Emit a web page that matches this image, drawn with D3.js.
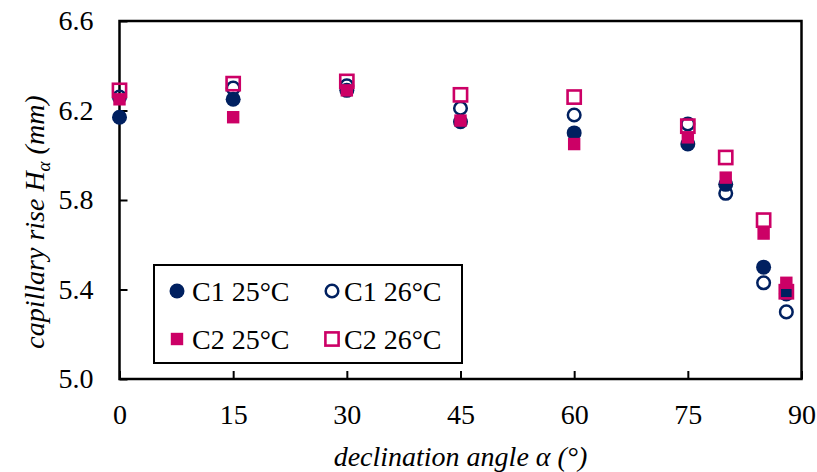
<!DOCTYPE html>
<html>
<head>
<meta charset="utf-8">
<script src="https://cdn.jsdelivr.net/npm/d3@7"></script>
<style>
  body { margin: 0; background: #fff; }
  svg { display: block; }
  text { font-family: "Liberation Serif", "Times New Roman", serif; fill: #000; }
</style>
</head>
<body>
<div id="chart"></div>
<script>
// declination angles (deg)
const angles = [0, 15, 30, 45, 60, 75, 80, 85, 88];
// capillary rise (mm)
const c1At25 = [6.17, 6.25, 6.29, 6.15, 6.10, 6.05, 5.87, 5.50, 5.38];
const c1At26 = [6.26, 6.30, 6.31, 6.21, 6.18, 6.14, 5.83, 5.43, 5.30];
const c2At25 = [6.25, 6.17, 6.29, 6.155, 6.05, 6.08, 5.90, 5.65, 5.43];
const c2At26 = [6.29, 6.32, 6.33, 6.27, 6.26, 6.13, 5.99, 5.71, 5.39];
const xTicks = [0, 15, 30, 45, 60, 75, 90];
const yTicks = [5.0, 5.4, 5.8, 6.2, 6.6];
const seriesNames = ["C1 25°C", "C1 26°C", "C2 25°C", "C2 26°C"];

const NAVY = "#002060", MAGENTA = "#CC0066";
const FONT = "'Liberation Serif', 'Times New Roman', serif";
const WIDTH = 817, HEIGHT = 472;
const margin = { top: 21, right: 15.5, bottom: 93, left: 119.5 };

const svg = d3.select("#chart").append("svg")
  .attr("width", WIDTH)
  .attr("height", HEIGHT);

const x = d3.scaleLinear().domain([0, 90]).range([margin.left, WIDTH - margin.right]);
const y = d3.scaleLinear().domain([5.0, 6.6]).range([HEIGHT - margin.bottom, margin.top]);

// axes with inward ticks
const xAxis = svg.append("g")
  .attr("transform", `translate(0, ${y(5.0)})`)
  .call(d3.axisBottom(x).tickValues(xTicks).tickSize(-8).tickPadding(25).tickFormat(d3.format("d")))
  .call(g => g.select(".domain").remove());

const yAxis = svg.append("g")
  .attr("transform", `translate(${x(0)}, 0)`)
  .call(d3.axisLeft(y).tickValues(yTicks).tickSize(-8).tickPadding(26).tickFormat(d3.format(".1f")))
  .call(g => g.select(".domain").remove());

[xAxis, yAxis].forEach(g => {
  g.attr("font-family", FONT);
  g.selectAll(".tick line").attr("stroke", "#000").attr("stroke-width", 2);
  g.selectAll(".tick text")
    .style("font-size", "28px")
    .style("font-family", FONT)
    .attr("fill", "#000");
});

// plot frame
svg.append("rect")
  .attr("x", x(0))
  .attr("y", y(6.6))
  .attr("width", x(90) - x(0))
  .attr("height", y(5.0) - y(6.6))
  .attr("fill", "none")
  .attr("stroke", "#000")
  .attr("stroke-width", 2.5);

// markers
function marker(sel, kind) {
  if (kind === 0) {
    sel.append("circle").attr("r", 7.5).attr("fill", NAVY);
  } else if (kind === 1) {
    sel.append("circle").attr("r", 6.3).attr("fill", "none")
      .attr("stroke", NAVY).attr("stroke-width", 2.5);
  } else if (kind === 2) {
    sel.append("rect").attr("x", -6.2).attr("y", -6.2).attr("width", 12.4).attr("height", 12.4)
      .attr("fill", MAGENTA);
  } else {
    sel.append("rect").attr("x", -6.6).attr("y", -6.6).attr("width", 13.2).attr("height", 13.2)
      .attr("fill", "none").attr("stroke", MAGENTA).attr("stroke-width", 2.6);
  }
}

const allSeries = [c1At25, c1At26, c2At25, c2At26];
allSeries.forEach((vals, k) => {
  const pts = svg.append("g").selectAll("g")
    .data(angles.map((a, i) => ({ a, v: vals[i] })))
    .enter()
    .append("g")
    .attr("transform", d => `translate(${x(d.a)}, ${y(d.v)})`);
  marker(pts, k);
});

// legend
const legend = svg.append("g");
legend.append("rect")
  .attr("x", 154).attr("y", 265)
  .attr("width", 308).attr("height", 98)
  .attr("fill", "#fff")
  .attr("stroke", "#000")
  .attr("stroke-width", 2);

const legendPos = [
  { mx: 177, tx: 192, cy: 291 },
  { mx: 332, tx: 344, cy: 291 },
  { mx: 177, tx: 192, cy: 339 },
  { mx: 332, tx: 344, cy: 339 }
];
seriesNames.forEach((name, k) => {
  const p = legendPos[k];
  const m = legend.append("g").attr("transform", `translate(${p.mx}, ${p.cy})`);
  marker(m, k);
  legend.append("text")
    .attr("x", p.tx)
    .attr("y", p.cy + 10)
    .style("font-size", "28px")
    .text(name);
});

// axis titles
svg.append("text")
  .attr("x", (x(0) + x(90)) / 2)
  .attr("y", 466)
  .attr("text-anchor", "middle")
  .style("font-size", "28px")
  .style("font-style", "italic")
  .text("declination angle α (°)");

const yTitle = svg.append("text")
  .attr("transform", "translate(44, 222) rotate(-90)")
  .attr("text-anchor", "middle")
  .style("font-size", "28px")
  .style("font-style", "italic");
yTitle.append("tspan").text("capillary rise H");
yTitle.append("tspan").attr("dy", 6).style("font-size", "19px").text("α");
yTitle.append("tspan").attr("dy", -6).text(" (mm)");
</script>
</body>
</html>
